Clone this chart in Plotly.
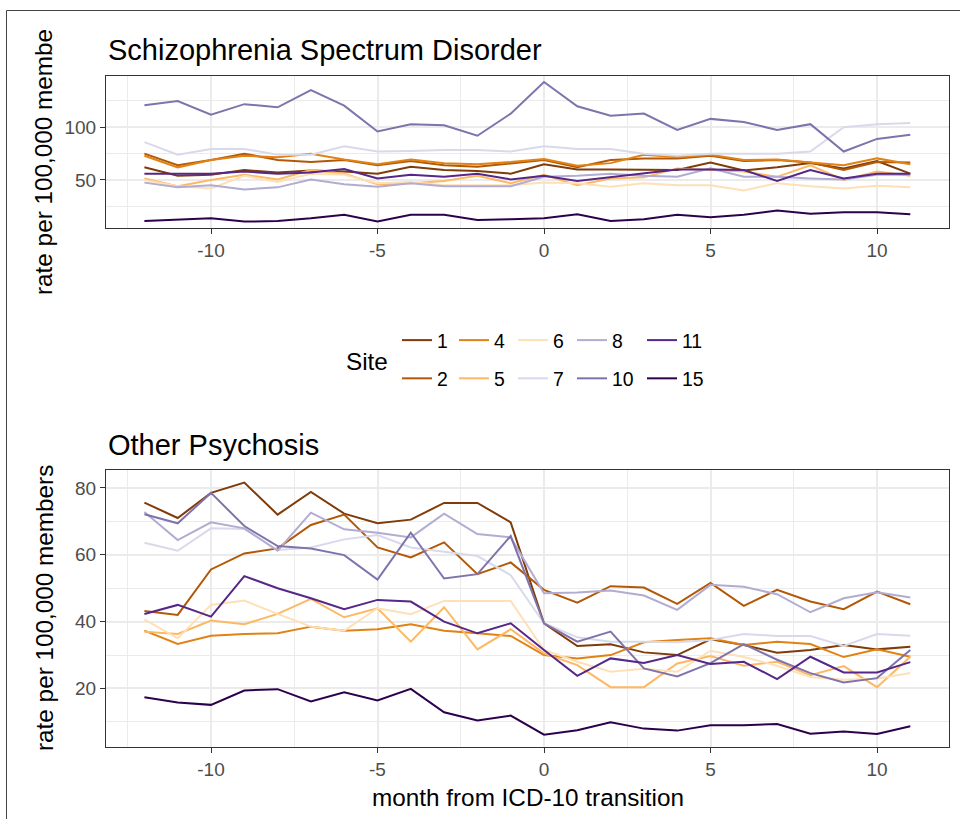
import plotly.graph_objects as go

W, H = 960, 819

months = [-12, -11, -10, -9, -8, -7, -6, -5, -4, -3, -2, -1, 0, 1, 2, 3, 4, 5, 6, 7, 8, 9, 10, 11]
sites = ["1", "2", "4", "5", "6", "7", "8", "10", "11", "15"]
site_colors = ["#7f3b08", "#b35806", "#e08214", "#fdb863", "#fee0b6",
               "#d8daeb", "#b2abd2", "#8073ac", "#542788", "#2d004b"]

x_tick_vals = [-10, -5, 0, 5, 10]
x_tick_labels = ["-10", "-5", "0", "5", "10"]
ssd_tick_vals = [50, 100]
op_tick_vals = [20, 40, 60, 80]

# Schizophrenia Spectrum Disorder (rate per 100,000 members)
ssd_1 = [62, 54, 55, 59.5, 57, 59, 58, 56, 62.5, 59.5, 58.5, 56, 65, 60, 60, 59.5, 59.5, 66.5, 59, 62, 66, 61, 68, 56]
ssd_2 = [75, 64, 69, 75, 69, 67, 69, 64, 68, 64, 62.5, 66, 69, 62, 69, 70.5, 70.5, 73, 68, 69, 66.5, 59.5, 67, 66.5]
ssd_4 = [73, 62, 69, 73, 71.5, 75, 69.5, 65, 69.5, 66, 65, 67, 70, 63.5, 66, 74, 71.5, 74, 69, 69.5, 66.5, 64, 70.5, 65]
ssd_5 = [51.5, 44, 50, 55, 50.5, 59.5, 56, 46, 47, 49, 54, 47, 55, 45, 51.5, 52.5, 61, 59.5, 58, 53, 64, 50, 58, 54]
ssd_6 = [50, 44, 42, 54, 48, 56, 55, 47, 48, 45, 45, 45, 47.5, 47, 43.5, 47, 45, 45, 40, 47, 44, 42, 44.5, 43]
ssd_7 = [86, 74, 79.5, 79.5, 74, 74, 82, 77, 77.5, 78.5, 78.5, 77, 82, 79.5, 79.5, 75, 73, 75, 75, 75, 77, 100, 103, 104]
ssd_8 = [47.5, 43, 45, 41, 43, 50.5, 46, 43.5, 47, 44, 44, 44, 53, 54, 56, 54, 53, 61, 53, 53, 51.5, 50.5, 55, 55]
ssd_10 = [121, 125, 112, 122, 119, 135.4, 120.6, 96, 103, 102, 92, 113, 143, 120, 111, 113, 97.5, 108, 105, 97.5, 103, 77, 89, 93]
ssd_11 = [56, 56, 56, 58, 56, 57, 60.5, 51.5, 55, 53, 56, 50.5, 54, 49, 52.5, 56, 60, 60, 59.5, 49, 59.5, 51.5, 56, 56]
ssd_15 = [11, 12, 13.6, 10.5, 11, 13.6, 17, 10.5, 17, 17, 12, 12.7, 13.6, 17.4, 11, 12.7, 17, 14.6, 17, 21, 18, 19.3, 19.3, 17.4]

# Other Psychosis (rate per 100,000 members)
op_1 = [75.6, 71, 78.5, 81.6, 72, 78.8, 72.3, 69.4, 70.5, 75.5, 75.5, 69.7, 39.5, 32.7, 33.2, 30.8, 30, 34.7, 33, 30.7, 31.5, 33, 31.7, 32.5]
op_2 = [43.2, 42, 55.6, 60.4, 61.9, 68.9, 72, 62.2, 59.2, 63.7, 54.2, 57.7, 49.5, 45.7, 50.6, 50.2, 45.3, 51.6, 44.7, 49.5, 46, 43.7, 49, 45.2]
op_4 = [37.3, 33.3, 35.8, 36.3, 36.5, 38.5, 37.3, 37.7, 39.2, 37.3, 36.5, 35.7, 30, 29, 30, 33.8, 34.5, 35, 33, 34, 33.3, 29.4, 31.7, 29.5]
op_5 = [37, 36.3, 40.3, 39.2, 42.3, 46.8, 41.3, 44, 34, 44.3, 31.7, 37.7, 30.5, 27, 20.4, 20.4, 27.5, 29.7, 26.8, 28, 24, 26.7, 20.4, 29.5]
op_6 = [40.7, 35, 45, 46.3, 42.3, 38.5, 37.3, 44, 42.2, 46.2, 46.2, 46.2, 31.5, 28, 25, 25.9, 25, 31.3, 29.4, 26.8, 23.4, 22.6, 22.9, 24.6]
op_7 = [63.6, 61.2, 67.9, 67.7, 61.4, 62.2, 64.6, 65.9, 62.2, 60.9, 59.6, 53.9, 39.5, 35.3, 34, 34, 33.8, 34.5, 36.3, 35.7, 35.7, 32.7, 36.3, 35.8]
op_8 = [72.8, 64.4, 69.7, 67.9, 61.2, 72.6, 67.6, 66.6, 65.2, 72.3, 66.2, 65.2, 48.5, 48.7, 49.3, 47.8, 43.5, 51, 50.4, 48.2, 42.8, 47, 48.8, 47.2]
op_10 = [72.1, 69.4, 78.5, 68.6, 62.6, 61.9, 59.9, 52.6, 66.6, 52.9, 54.2, 65.6, 39.5, 34, 37, 26, 23.6, 27.6, 33.3, 28.6, 24.6, 21.8, 23.1, 31.5]
op_11 = [42.3, 45, 41.5, 53.6, 50, 47, 43.7, 46.5, 46, 40, 36.5, 39.5, 31.5, 23.8, 29, 27.6, 30, 27.3, 28, 22.8, 29.5, 24.8, 24.8, 27.9]
op_15 = [17.4, 15.8, 15.1, 19.4, 19.8, 16.1, 18.9, 16.4, 19.9, 12.9, 10.4, 11.9, 6.2, 7.5, 9.9, 8, 7.4, 9, 9, 9.4, 6.5, 7.1, 6.4, 8.7]

ssd_series = [ssd_1, ssd_2, ssd_4, ssd_5, ssd_6, ssd_7, ssd_8, ssd_10, ssd_11, ssd_15]
op_series = [op_1, op_2, op_4, op_5, op_6, op_7, op_8, op_10, op_11, op_15]

# legend layout: columns (site indices), ggplot column-major 2 rows
legend_cols = [[0, 1], [2, 3], [4, 5], [6, 7], [8, 9]]
legend_col_x = [402, 459, 518, 577, 647]

FONT = "Liberation Sans, Arial, sans-serif"
LW = 2.0


def fx(p):
    return p / W


def fy(p):
    return 1 - p / H


fig = go.Figure()

site_legend = {}
for ci, col in enumerate(legend_cols):
    for si in col:
        site_legend[si] = "legend" if ci == 0 else f"legend{ci + 1}"

for i, s in enumerate(sites):
    fig.add_trace(go.Scatter(
        x=months, y=ssd_series[i], mode="lines", name=s,
        line=dict(color=site_colors[i], width=LW),
        xaxis="x", yaxis="y", legend=site_legend[i], legendgroup=s,
        showlegend=True, hoverinfo="skip"))
for i, s in enumerate(sites):
    fig.add_trace(go.Scatter(
        x=months, y=op_series[i], mode="lines", name=s,
        line=dict(color=site_colors[i], width=LW),
        xaxis="x2", yaxis="y2", legendgroup=s, legend=site_legend[i],
        showlegend=False, hoverinfo="skip"))

xdom = [fx(106.1), fx(948.6)]
common_axis = dict(
    showline=True, mirror=True, linecolor="#333333", linewidth=1.2,
    ticks="outside", ticklen=5, tickwidth=1.2, tickcolor="#333333",
    tickfont=dict(family=FONT, size=19, color="#4d4d4d"),
    showgrid=True, gridcolor="#ebebeb", gridwidth=2,
    zeroline=False, automargin=False,
)
xminor = dict(tickvals=[-12.5, -7.5, -2.5, 2.5, 7.5], showgrid=True, gridcolor="#ebebeb", gridwidth=1)
xcommon = dict(common_axis, range=[-13.15, 12.15], tickvals=x_tick_vals, ticktext=x_tick_labels,
               domain=xdom, minor=xminor)

layout_legends = {}
for ci, col in enumerate(legend_cols):
    key = "legend" if ci == 0 else f"legend{ci + 1}"
    layout_legends[key] = dict(
        x=fx(legend_col_x[ci] - 5), xanchor="left",
        y=fy(321), yanchor="top",
        orientation="v", tracegroupgap=10, bgcolor="rgba(0,0,0,0)",
        font=dict(family=FONT, size=19.4, color="#000000"),
        itemwidth=30, traceorder="grouped",
    )

fig.update_layout(
    width=W, height=H,
    margin=dict(l=0, r=0, t=0, b=0),
    paper_bgcolor="white", plot_bgcolor="white",
    font=dict(family=FONT, color="#000000"),
    xaxis=dict(xcommon, anchor="y"),
    yaxis=dict(common_axis, domain=[fy(227.7), fy(75.7)], range=[4.7, 149], tickvals=ssd_tick_vals,
               minor=dict(tickvals=[25, 75, 125], showgrid=True, gridcolor="#ebebeb", gridwidth=1),
               anchor="x"),
    xaxis2=dict(xcommon, anchor="y2"),
    yaxis2=dict(common_axis, domain=[fy(747), fy(470)], range=[2.5, 85.35], tickvals=op_tick_vals,
                minor=dict(tickvals=[10, 30, 50, 70], showgrid=True, gridcolor="#ebebeb", gridwidth=1),
                anchor="x2"),
    **layout_legends,
)

ann = [
    dict(text="Schizophrenia Spectrum Disorder", x=fx(106), y=fy(50), xanchor="left", yanchor="middle",
         font=dict(size=29, family=FONT, color="#000000")),
    dict(text="Other Psychosis", x=fx(106), y=fy(445), xanchor="left", yanchor="middle",
         font=dict(size=29, family=FONT, color="#000000")),
    dict(text="rate per 100,000 membe", x=fx(44), y=fy(162), textangle=-90, xanchor="center", yanchor="middle",
         font=dict(size=24.3, family=FONT, color="#000000")),
    dict(text="rate per 100,000 members", x=fx(44), y=fy(608), textangle=-90, xanchor="center", yanchor="middle",
         font=dict(size=24.3, family=FONT, color="#000000")),
    dict(text="month from ICD-10 transition", x=fx(528), y=fy(797), xanchor="center", yanchor="middle",
         font=dict(size=24.3, family=FONT, color="#000000")),
    dict(text="Site", x=fx(367), y=fy(361), xanchor="center", yanchor="middle",
         font=dict(size=24.3, family=FONT, color="#000000")),
]
for a in ann:
    a.update(xref="paper", yref="paper", showarrow=False)
fig.update_layout(annotations=ann)

fig.add_shape(type="rect", xref="paper", yref="paper",
              x0=fx(6.5), y0=fy(10.5), x1=fx(1200), y1=fy(1200),
              line=dict(color="#444444", width=1), fillcolor="rgba(0,0,0,0)", layer="above")

fig.write_html("out.html", config={"displayModeBar": False},
               post_script="document.body.style.margin='0px';")
